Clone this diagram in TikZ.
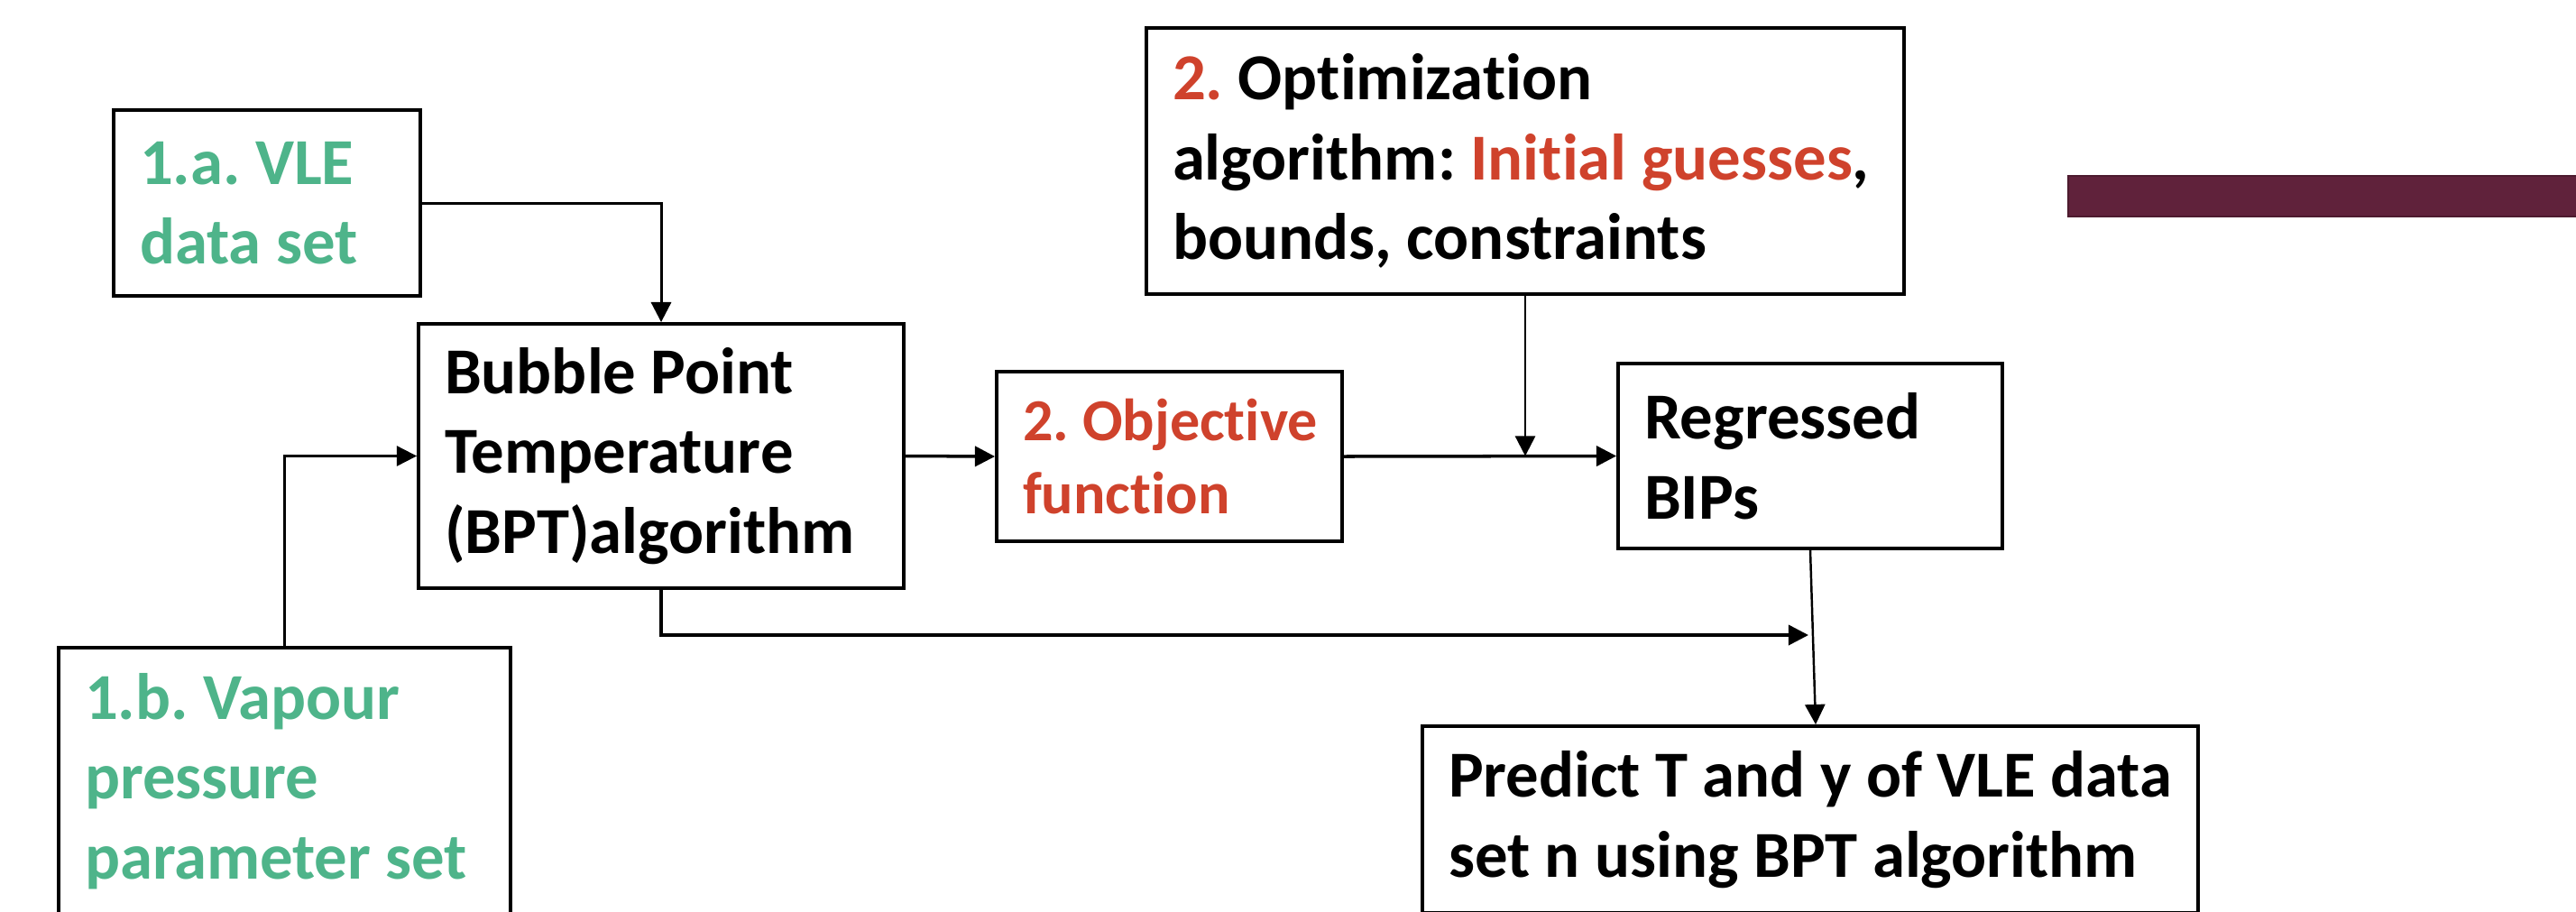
\documentclass[tikz,border=0pt]{standalone}
\usepackage{fontspec}
\setmainfont{Carlito}[Ligatures={NoCommon}]
\usepackage{xcolor}
\usetikzlibrary{arrows.meta,positioning,calc}

\definecolor{setgreen}{RGB}{78,180,138}
\definecolor{objred}{RGB}{207,66,44}
\definecolor{barred}{RGB}{96,34,59}

\begin{document}
\begin{tikzpicture}[>={Triangle[length=6.3pt,width=6.3pt]},
  box/.style={draw,line width=1.1pt,inner xsep=0.05cm,inner ysep=0pt,align=left,
    font=\fontsize{20.7}{25.2}\selectfont\bfseries,
    execute at begin node={\leftskip=0.24cm\rightskip=0pt plus 1fil minus 3cm
      \spaceskip=0pt\xspaceskip=0pt\frenchspacing\hyphenpenalty=10000}},
  link/.style={->,line width=1pt},
  feed/.style={->,line width=0.7pt}]
  \clip (0,0) rectangle (28.56,-10.10);
  % input data sets
  \node[box,text=setgreen,text width=3.30cm,minimum height=2.06cm] (vle) at (2.96,-2.25) {1.a. VLE\\data set};
  \node[box,text=setgreen,text width=4.91cm,minimum height=2.96cm] (vap) at (3.155,-8.66) {1.b. Vapour\\pressure\\parameter set};
  % regression chain
  \node[box,text width=5.28cm,minimum height=2.93cm] (bpt) at (7.33,-5.055) {Bubble Point\\Temperature\\(BPT)algorithm};
  \node[box,text=objred,font=\fontsize{18.8}{22.9}\selectfont\bfseries,
    text width=3.73cm,minimum height=1.88cm] (obj) at (12.965,-5.06) {2. Objective\\function};
  \node[box,text width=8.30cm,minimum height=2.95cm] (opt) at (16.91,-1.785)
    {\textcolor{objred}{2.} Optimization\\algorithm: \textcolor{objred}{Initial guesses},\\bounds, constraints};
  \node[box,text width=4.16cm,minimum height=2.05cm] (bip) at (20.07,-5.055) {Regressed\\BIPs};
  \node[box,text width=8.50cm,minimum height=2.07cm] (pred) at (20.07,-9.085) {Predict T and y of VLE data\\set n using BPT algorithm};
  % side bar
  \filldraw[fill=barred,draw=barred!80!black,line width=0.6pt] (22.93,-1.95) rectangle (28.70,-2.40);

  \coordinate (join) at (opt.south |- bip.west);
  \coordinate (merge) at (20.05,-7.04);
  \draw[link,line width=0.85pt] (vle.east) -| (bpt.north);
  \draw[feed,line width=0.6pt] (vap.north) |- (bpt.west);
  \draw[link] (bpt.east) -- (obj.west);
  \draw[link] (obj.east) -- (bip.west);
  \draw[feed] (opt.south) -- (join);
  \draw[link] (bpt.south) |- (merge);
  \draw[feed] (bip.south) -- ([xshift=0.06cm]pred.north);
\end{tikzpicture}
\end{document}
